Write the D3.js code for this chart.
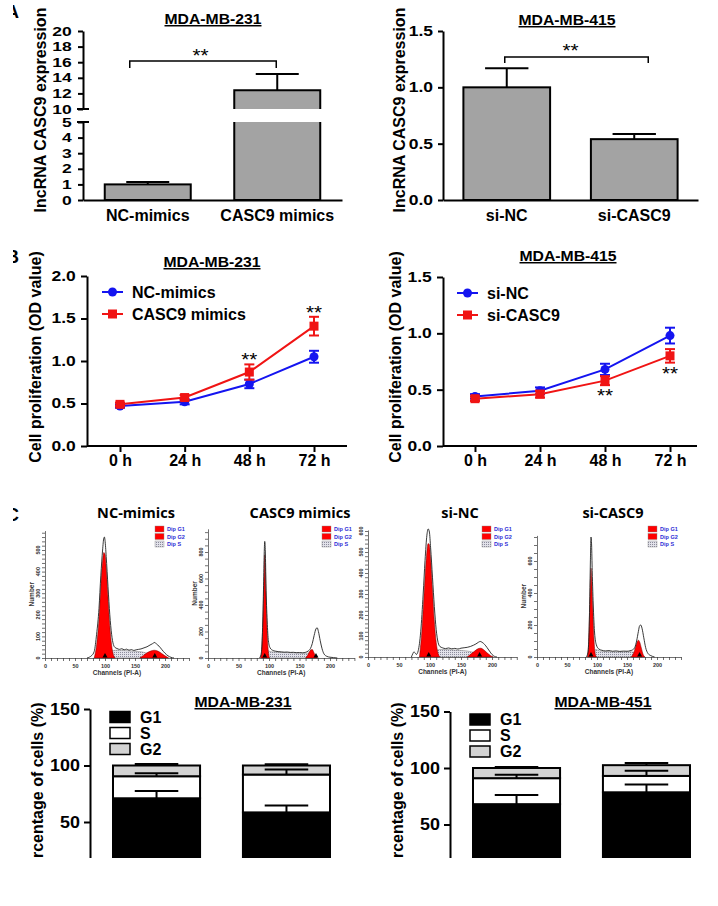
<!DOCTYPE html>
<html><head><meta charset="utf-8">
<script src="https://cdn.jsdelivr.net/npm/d3@7"></script>
<style>body{margin:0;background:#fff}svg{display:block}</style>
</head><body><svg id="c" width="718" height="906"></svg>
<script>
// ---------------- DATA ----------------
const exprA1Cats = ["NC-mimics", "CASC9 mimics"];
const exprA1Vals = [1.0, 12.4];
const exprA1Errs = [0.15, 2.1];
const exprA1LowTicks = [0, 1, 2, 3, 4, 5];
const exprA1HighTicks = [10, 12, 14, 16, 18, 20];
const exprA2Cats = ["si-NC", "si-CASC9"];
const exprA2Vals = [1.0, 0.54];
const exprA2Errs = [0.17, 0.045];
const exprA2Ticks = [0, 0.5, 1.0, 1.5];

const timeLabels = ["0 h", "24 h", "48 h", "72 h"];
const prolB1Names = ["NC-mimics", "CASC9 mimics"];
const prolB1NC = [0.47, 0.52, 0.73, 1.05];
const prolB1NCErr = [0.02, 0.03, 0.05, 0.07];
const prolB1Casc = [0.49, 0.57, 0.87, 1.41];
const prolB1CascErr = [0.02, 0.03, 0.09, 0.11];
const prolB1Ticks = [0, 0.5, 1.0, 1.5, 2.0];
const prolB2Names = ["si-NC", "si-CASC9"];
const prolB2NC = [0.44, 0.49, 0.68, 0.98];
const prolB2NCErr = [0.02, 0.03, 0.05, 0.07];
const prolB2Si = [0.42, 0.46, 0.58, 0.80];
const prolB2SiErr = [0.02, 0.03, 0.04, 0.06];
const prolB2Ticks = [0, 0.5, 1.0, 1.5];

// flow histograms: [channel, count]
const histNCOutline = [[70,0],[74,4],[78,12],[82,30],[86,110],[90,230],[93,380],[96,500],[98,555],[99,560],[100,545],[102,470],[105,330],[108,200],[111,110],[114,62],[117,48],[120,44],[124,40],[128,43],[132,38],[136,41],[140,36],[144,39],[148,35],[152,38],[156,40],[160,42],[165,47],[170,52],[175,60],[179,66],[183,72],[186,64],[190,55],[195,38],[200,22],[205,10],[210,3],[215,0]];
const histNCG1 = [[82,0],[86,60],[90,180],[93,330],[96,450],[98,488],[100,480],[102,420],[105,280],[108,150],[111,60],[114,15],[117,0]];
const histNCG2 = [[158,0],[164,12],[170,24],[176,32],[182,36],[188,32],[194,22],[200,10],[206,0]];
const histNCS = [[104,0],[108,22],[113,34],[120,36],[135,34],[150,31],[162,28],[172,20],[182,10],[192,3],[200,0]];

const histCAOutline = [[84,0],[87,25],[89,160],[91,520],[92,760],[93,880],[94,800],[95,560],[97,280],[99,130],[102,75],[106,58],[110,52],[115,48],[120,46],[125,44],[130,45],[135,42],[140,43],[145,40],[150,41],[155,39],[160,43],[164,52],[168,72],[171,110],[174,170],[177,220],[179,228],[181,200],[184,130],[187,70],[190,32],[195,12],[200,6],[206,3],[212,0]];
const histCAG1 = [[86,0],[88,60],[90,280],[92,620],[93,780],[94,700],[95,500],[97,200],[99,50],[101,0]];
const histCAG2 = [[160,0],[163,18],[166,45],[169,62],[171,64],[173,48],[176,18],[179,0]];
const histCAS = [[95,0],[97,55],[100,52],[105,46],[120,42],[140,39],[155,38],[164,36],[170,28],[176,12],[180,0]];

const histSNOutline = [[70,0],[72,14],[74,24],[76,20],[78,12],[81,30],[85,120],[89,300],[92,460],[95,580],[97,610],[99,595],[101,520],[104,380],[107,240],[110,130],[113,70],[116,50],[120,44],[125,40],[130,43],[135,39],[140,41],[145,38],[150,42],[155,44],[160,46],[165,50],[170,56],[174,62],[178,70],[181,74],[184,70],[188,60],[192,45],[196,28],[200,12],[204,3],[208,0]];
const histSNG1 = [[83,0],[87,130],[91,330],[94,470],[97,540],[99,535],[101,470],[104,320],[107,170],[110,70],[113,18],[116,0]];
const histSNG2 = [[160,0],[166,14],[172,28],[178,40],[182,42],[186,36],[192,20],[198,6],[202,0]];
const histSNS = [[106,0],[110,28],[116,36],[125,36],[140,33],[155,30],[165,26],[174,18],[184,8],[194,0]];

const histSCOutline = [[82,0],[85,30],[87,190],[88,380],[89,600],[90,750],[91,700],[92,540],[94,300],[96,150],[99,75],[103,50],[108,42],[114,38],[120,40],[126,36],[132,38],[138,35],[144,37],[150,36],[155,39],[159,44],[163,60],[166,100],[169,160],[171,195],[173,200],[175,180],[178,120],[181,60],[185,22],[190,8],[196,0]];
const histSCG1 = [[84,0],[86,90],[88,330],[89,480],[90,555],[91,500],[93,300],[95,110],[97,20],[99,0]];
const histSCG2 = [[157,0],[161,25],[164,60],[167,95],[169,105],[171,95],[174,55],[177,15],[180,0]];
const histSCS = [[95,0],[98,48],[104,38],[115,34],[130,32],[145,32],[156,33],[163,26],[170,12],[175,0]];

const phaseNames = ["G1", "S", "G2"];
const cycle231Cats = ["NC-mimics", "CASC9 mimics"];
const cycle231G1 = [71, 58.5];
const cycle231S = [19.5, 33.5];
const cycle231G2 = [9.5, 8];
const cycle231G1Err = [6.4, 6.2];
const cycle231SErr = [2.7, 4.5];
const cycle231G2Err = [1.3, 1.0];
const cycle451Cats = ["si-NC", "si-CASC9"];
const cycle451G1 = [68, 78.5];
const cycle451S = [23, 14.5];
const cycle451G2 = [9, 9.5];
const cycle451G1Err = [8, 7];
const cycle451SErr = [3, 4.5];
const cycle451G2Err = [0.8, 2];
const cycleTicks = [0, 50, 100, 150];

// ---------------- DRAWING ----------------
const FONT = '"Liberation Sans", Arial, sans-serif';
const SX = 1.25;
const BLUE = "#1414f0", RED = "#f01414", BARGRAY = "#a3a3a3";
const svg = d3.select("#c").attr("font-family", FONT);
svg.append("rect").attr("width", 718).attr("height", 906).attr("fill", "#fff");
const defs = svg.append("defs");
const pat = defs.append("pattern").attr("id", "dots").attr("width", 2).attr("height", 2).attr("patternUnits", "userSpaceOnUse");
pat.append("rect").attr("width", 2).attr("height", 2).attr("fill", "#e2e2ea");
pat.append("rect").attr("width", 1).attr("height", 1).attr("fill", "#8c8c9c");
defs.append("clipPath").attr("id", "letterClip").append("rect").attr("x", 13).attr("y", 0).attr("width", 30).attr("height", 906);
defs.append("clipPath").attr("id", "bottomClip").append("rect").attr("x", 0).attr("y", 0).attr("width", 718).attr("height", 858);

function htext(g, x, y, s, o = {}) {
  return g.append("text")
    .attr("transform", `translate(${x},${y}) scale(${o.sx ?? 1},1)`)
    .attr("text-anchor", o.anchor || "middle")
    .attr("font-size", o.size || 16)
    .attr("font-weight", o.weight || "bold")
    .attr("font-family", o.family || FONT)
    .attr("fill", o.fill || "#000")
    .style("text-decoration", o.underline ? "underline" : null)
    .text(s);
}
function vtext(g, x, y, s, size = 16, weight = "bold", family = FONT) {
  return g.append("text").attr("transform", `translate(${x},${y}) rotate(-90)`)
    .attr("text-anchor", "middle").attr("font-size", size).attr("font-weight", weight)
    .attr("font-family", family).text(s);
}
function styleAxis(sel, w = 2, size = 14, sx = SX) {
  sel.selectAll("path,line").attr("stroke", "#000").attr("stroke-width", w);
  sel.selectAll("text").attr("font-family", FONT).attr("font-weight", "bold")
    .attr("font-size", size).attr("fill", "#000").attr("transform", `scale(${sx},1)`);
}

// panel letters (cropped)
const letters = svg.append("g").attr("clip-path", "url(#letterClip)");
[["A", 18], ["B", 263], ["C", 521]].forEach(([t, y]) =>
  letters.append("text").attr("x", 19).attr("y", y).attr("text-anchor", "end")
    .attr("font-size", 18).attr("font-weight", "bold").text(t));

// ---------- Panel A left (broken axis) ----------
{
  const g = svg.append("g");
  const AX = 83, X1 = 342;
  const x = d3.scaleBand().domain(exprA1Cats).range([AX, X1]).paddingInner(0.336).paddingOuter(0.168);
  const yLo = d3.scaleLinear().domain([0, 5]).range([200, 122]);
  const yHi = d3.scaleLinear().domain([10, 20]).range([109, 31]);
  const yv = v => v > 5 ? yHi(v) : yLo(v);
  const bw = x.bandwidth();
  exprA1Vals.forEach((v, i) => {
    const x0 = x(exprA1Cats[i]);
    if (v <= 5) {
      g.append("rect").attr("x", x0).attr("y", yLo(v)).attr("width", bw).attr("height", yLo(0) - yLo(v))
        .attr("fill", BARGRAY).attr("stroke", "#000").attr("stroke-width", 2);
    } else {
      g.append("rect").attr("x", x0).attr("y", yLo(5)).attr("width", bw).attr("height", yLo(0) - yLo(5)).attr("fill", BARGRAY);
      g.append("path").attr("d", `M${x0},${yLo(5)}V${yLo(0)}H${x0 + bw}V${yLo(5)}`).attr("fill", "none").attr("stroke", "#000").attr("stroke-width", 2);
      g.append("rect").attr("x", x0).attr("y", yHi(v)).attr("width", bw).attr("height", yHi(10) - yHi(v)).attr("fill", BARGRAY);
      g.append("path").attr("d", `M${x0},${yHi(10)}V${yHi(v)}H${x0 + bw}V${yHi(10)}`).attr("fill", "none").attr("stroke", "#000").attr("stroke-width", 2);
    }
    const cx = x0 + bw / 2, e = exprA1Errs[i];
    g.append("line").attr("x1", cx).attr("x2", cx).attr("y1", yv(v)).attr("y2", yv(v + e)).attr("stroke", "#000").attr("stroke-width", 2);
    g.append("line").attr("x1", cx - bw / 4).attr("x2", cx + bw / 4).attr("y1", yv(v + e)).attr("y2", yv(v + e)).attr("stroke", "#000").attr("stroke-width", 2);
  });
  const gl = g.append("g").attr("transform", `translate(${AX},0)`).call(d3.axisLeft(yLo).tickValues(exprA1LowTicks).tickSize(5).tickSizeOuter(0).tickFormat(d3.format("d")));
  styleAxis(gl, 2, 12.5, 1.4);
  const gh = g.append("g").attr("transform", `translate(${AX},0)`).call(d3.axisLeft(yHi).tickValues(exprA1HighTicks).tickSize(5).tickSizeOuter(0).tickFormat(d3.format("d")));
  styleAxis(gh, 2, 12.5, 1.4);
  // break marks
  [yHi(10), yLo(5)].forEach(yy => g.append("line").attr("x1", AX - 6).attr("x2", AX + 6).attr("y1", yy).attr("y2", yy).attr("stroke", "#000").attr("stroke-width", 2));
  const gx = g.append("g").attr("transform", "translate(0,200)").call(d3.axisBottom(x).tickSize(0).tickPadding(10));
  styleAxis(gx, 2, 16, 1.0);
  // significance
  const c0 = x(exprA1Cats[0]) + bw / 2, c1 = x(exprA1Cats[1]) + bw / 2;
  g.append("path").attr("d", `M${c0 - 18},68V61H${c1 - 1}V68`).attr("fill", "none").attr("stroke", "#000").attr("stroke-width", 1.5);
  htext(g, (c0 + c1) / 2 - 12, 62, "**", { size: 18, weight: "normal", sx: 1.15 });
  htext(g, 213, 24, "MDA-MB-231", { size: 15, underline: true, sx: 1.05 });
  vtext(g, 46, 110, "lncRNA CASC9 expression");
}

// ---------- Panel A right ----------
{
  const g = svg.append("g");
  const AX = 443, X1 = 698;
  const x = d3.scaleBand().domain(exprA2Cats).range([AX, X1]).paddingInner(0.32).paddingOuter(0.16);
  const y = d3.scaleLinear().domain([0, 1.5]).range([200, 31]);
  const bw = x.bandwidth();
  exprA2Vals.forEach((v, i) => {
    const x0 = x(exprA2Cats[i]), cx = x0 + bw / 2, e = exprA2Errs[i];
    g.append("line").attr("x1", cx).attr("x2", cx).attr("y1", y(v)).attr("y2", y(v + e)).attr("stroke", "#000").attr("stroke-width", 2);
    g.append("line").attr("x1", cx - bw / 4).attr("x2", cx + bw / 4).attr("y1", y(v + e)).attr("y2", y(v + e)).attr("stroke", "#000").attr("stroke-width", 2);
    g.append("rect").attr("x", x0).attr("y", y(v)).attr("width", bw).attr("height", y(0) - y(v))
      .attr("fill", BARGRAY).attr("stroke", "#000").attr("stroke-width", 2);
  });
  const gy = g.append("g").attr("transform", `translate(${AX},0)`).call(d3.axisLeft(y).tickValues(exprA2Ticks).tickSize(5).tickSizeOuter(0).tickFormat(d3.format(".1f")));
  styleAxis(gy);
  const gx = g.append("g").attr("transform", "translate(0,200)").call(d3.axisBottom(x).tickSize(0).tickPadding(10));
  styleAxis(gx, 2, 16, 1.0);
  const c0 = x(exprA2Cats[0]) + bw / 2, c1 = x(exprA2Cats[1]) + bw / 2;
  g.append("path").attr("d", `M${c0 - 2},63V57H${c1 + 14}V63`).attr("fill", "none").attr("stroke", "#000").attr("stroke-width", 1.5);
  htext(g, (c0 + c1) / 2, 57, "**", { size: 18, weight: "normal", sx: 1.15 });
  htext(g, 567, 25, "MDA-MB-415", { size: 15, underline: true, sx: 1.05 });
  vtext(g, 405, 110, "lncRNA CASC9 expression");
}

// ---------- Panel B line charts ----------
function lineChart(o) {
  const g = svg.append("g");
  const x = d3.scalePoint().domain(timeLabels).range(o.xr);
  const y = d3.scaleLinear().domain([0, o.yMax]).range([446, o.yTop]);
  const gy = g.append("g").attr("transform", `translate(${o.ax},0)`).call(d3.axisLeft(y).tickValues(o.yTicks).tickSize(6).tickSizeOuter(0).tickFormat(d3.format(".1f")));
  styleAxis(gy);
  const gx = g.append("g").attr("transform", "translate(0,446)").call(d3.axisBottom(x).tickSize(6).tickSizeOuter(0));
  gx.select(".domain").remove();
  styleAxis(gx, 2, 16, 1.0);
  g.append("line").attr("x1", o.ax).attr("x2", o.axEnd).attr("y1", 446).attr("y2", 446).attr("stroke", "#000").attr("stroke-width", 2);
  const line = d3.line().x((d, i) => x(timeLabels[i])).y(d => y(d));
  o.series.forEach(s => {
    g.append("path").attr("d", line(s.vals)).attr("fill", "none").attr("stroke", s.color).attr("stroke-width", 2);
    s.vals.forEach((v, i) => {
      const cx = x(timeLabels[i]), e = s.errs[i];
      g.append("line").attr("x1", cx).attr("x2", cx).attr("y1", y(v - e)).attr("y2", y(v + e)).attr("stroke", s.color).attr("stroke-width", 2);
      [v - e, v + e].forEach(w => g.append("line").attr("x1", cx - 5).attr("x2", cx + 5).attr("y1", y(w)).attr("y2", y(w)).attr("stroke", s.color).attr("stroke-width", 2));
      if (s.shape === "circle") g.append("circle").attr("cx", cx).attr("cy", y(v)).attr("r", 4.5).attr("fill", s.color);
      else g.append("rect").attr("x", cx - 4.5).attr("y", y(v) - 4.5).attr("width", 9).attr("height", 9).attr("fill", s.color);
    });
  });
  // legend
  o.series.forEach((s, k) => {
    const ly = o.legY[k];
    g.append("line").attr("x1", o.legX).attr("x2", o.legX + 21).attr("y1", ly).attr("y2", ly).attr("stroke", s.color).attr("stroke-width", 2);
    if (s.shape === "circle") g.append("circle").attr("cx", o.legX + 10.5).attr("cy", ly).attr("r", 4.5).attr("fill", s.color);
    else g.append("rect").attr("x", o.legX + 6).attr("y", ly - 4.5).attr("width", 9).attr("height", 9).attr("fill", s.color);
    htext(g, o.legX + 30, ly + 6, s.name, { size: 16, anchor: "start" });
  });
  // significance stars
  o.stars.forEach(st => {
    const s = o.series[st.series], i = st.idx;
    const yy = st.above ? y(s.vals[i] + s.errs[i]) + 2 : y(s.vals[i] - s.errs[i]) + 17;
    htext(g, x(timeLabels[i]), yy, "**", { size: 18, weight: "normal", sx: 1.15 });
  });
  htext(g, o.titleX, o.titleY, o.title, { size: 15, underline: true, sx: 1.05 });
  vtext(g, o.labX, 357, "Cell proliferation (OD value)");
}
lineChart({
  ax: 87, axEnd: 347, xr: [120, 314], yMax: 2.0, yTop: 276, yTicks: prolB1Ticks,
  series: [
    { name: prolB1Names[0], vals: prolB1NC, errs: prolB1NCErr, color: BLUE, shape: "circle" },
    { name: prolB1Names[1], vals: prolB1Casc, errs: prolB1CascErr, color: RED, shape: "square" }],
  legX: 102, legY: [292, 314],
  stars: [{ series: 1, idx: 2, above: true }, { series: 1, idx: 3, above: true }],
  title: "MDA-MB-231", titleX: 212, titleY: 267, labX: 41
});
lineChart({
  ax: 443, axEnd: 697, xr: [475, 670], yMax: 1.5, yTop: 277, yTicks: prolB2Ticks,
  series: [
    { name: prolB2Names[0], vals: prolB2NC, errs: prolB2NCErr, color: BLUE, shape: "circle" },
    { name: prolB2Names[1], vals: prolB2Si, errs: prolB2SiErr, color: RED, shape: "square" }],
  legX: 457, legY: [293, 315],
  stars: [{ series: 1, idx: 2, above: false }, { series: 1, idx: 3, above: false }],
  title: "MDA-MB-415", titleX: 568, titleY: 261, labX: 401
});

// ---------- Panel C flow histograms ----------
function histo(c) {
  const g = svg.append("g");
  const x = d3.scaleLinear().domain([0, 240]).range([c.x0, c.x0 + 240 * c.ppc]);
  const y = d3.scaleLinear().domain([0, c.yMax]).range([c.y0, c.y0 - c.yMax * c.ppn]);
  const area = d3.area().x(d => x(d[0])).y0(y(0)).y1(d => y(d[1])).curve(d3.curveMonotoneX);
  const line = d3.line().x(d => x(d[0])).y(d => y(d[1])).curve(d3.curveMonotoneX);
  g.append("path").attr("d", area(c.s)).attr("fill", "url(#dots)").attr("stroke", "#777").attr("stroke-width", 0.5);
  g.append("path").attr("d", area(c.g1)).attr("fill", "#ff0000").attr("stroke", "#700").attr("stroke-width", 0.5);
  g.append("path").attr("d", area(c.g2)).attr("fill", "#ff0000").attr("stroke", "#700").attr("stroke-width", 0.5);
  g.append("path").attr("d", line(c.outline)).attr("fill", "none").attr("stroke", "#222").attr("stroke-width", 0.9);
  // x axis
  const gx = g.append("g").attr("transform", `translate(0,${c.y0})`)
    .call(d3.axisBottom(x).tickValues(d3.range(0, 241, 10)).tickSize(3).tickSizeOuter(0)
      .tickFormat(d => (d % 50 === 0 && d <= 200) ? d : ""));
  gx.selectAll("path,line").attr("stroke", "#333").attr("stroke-width", 0.7);
  gx.selectAll("text").attr("font-size", 5.5).attr("font-weight", "bold").attr("fill", "#333").attr("y", 6);
  // y axis
  const gy = g.append("g").attr("transform", `translate(${c.x0},0)`)
    .call(d3.axisLeft(y).tickValues(d3.range(0, c.yMax + 0.1, c.yMinor)).tickSize(3).tickSizeOuter(0).tickFormat(""));
  gy.selectAll("path,line").attr("stroke", "#333").attr("stroke-width", 0.7);
  g.selectAll(null).data(c.yMajor).join("text")
    .attr("transform", d => `translate(${c.x0 - 5},${y(d)}) rotate(-90)`)
    .attr("text-anchor", "middle").attr("font-size", 5.5).attr("font-weight", "bold").attr("fill", "#333").text(d => d);
  if (!c.noNumber) vtext(g, c.x0 - 11, (c.y0 + y(c.yMax)) / 2, "Number", 6.5).attr("fill", "#333");
  htext(g, (x(0) + x(240)) / 2, c.y0 + 17, "Channels (PI-A)", { size: 6.5, fill: "#333" });
  // peak markers
  c.markers.forEach(m => g.append("path")
    .attr("d", `M${x(m) - 2.5},${c.y0 - 0.5}L${x(m)},${c.y0 - 5}L${x(m) + 2.5},${c.y0 - 0.5}Z`).attr("fill", "#000"));
  // legend
  [["Dip G1", "#ff0000"], ["Dip G2", "#ff0000"], ["Dip S", "url(#dots)"]].forEach(([t, f], k) => {
    const ly = 526 + k * 7.5;
    g.append("rect").attr("x", c.legX).attr("y", ly).attr("width", 9).attr("height", 6).attr("fill", f).attr("stroke", "#888").attr("stroke-width", 0.4);
    htext(g, c.legX + 12, ly + 5.3, t, { size: 5.5, anchor: "start", fill: "#2b2bd6" });
  });
  htext(g, c.titleX, 518, c.title, { size: 15, weight: 700, family: '"Open Sans", sans-serif', sx: 0.97 });
}
histo({ x0: 45, ppc: 0.6, y0: 658, ppn: 0.216, yMax: 590, yMinor: 20, yMajor: [0, 100, 200, 300, 400, 500],
  outline: histNCOutline, g1: histNCG1, g2: histNCG2, s: histNCS, markers: [100, 183],
  title: "NC-mimics", titleX: 136, legX: 155 });
histo({ x0: 208, ppc: 0.61, y0: 658, ppn: 0.1325, yMax: 975, yMinor: 50, yMajor: [0, 200, 400, 600, 800],
  outline: histCAOutline, g1: histCAG1, g2: histCAG2, s: histCAS, markers: [93, 177],
  title: "CASC9 mimics", titleX: 300, legX: 322 });
histo({ x0: 368, ppc: 0.62, y0: 657, ppn: 0.21, yMax: 605, yMinor: 20, yMajor: [0, 100, 200, 300, 400, 500, 600],
  outline: histSNOutline, g1: histSNG1, g2: histSNG2, s: histSNS, markers: [98, 180],
  title: "si-NC", titleX: 460, legX: 482, noNumber: true });
histo({ x0: 537, ppc: 0.6, y0: 657, ppn: 0.16, yMax: 760, yMinor: 50, yMajor: [0, 200, 400, 600],
  outline: histSCOutline, g1: histSCG1, g2: histSCG2, s: histSCS, markers: [90, 171],
  title: "si-CASC9", titleX: 613, legX: 648 });

// ---------- Panel C cell-cycle stacked bars ----------
function cycleChart(o) {
  const g = svg.append("g").attr("clip-path", "url(#bottomClip)");
  const x = d3.scaleBand().domain(o.cats).range([o.ax, o.ax + 263]).paddingInner(0.33).paddingOuter(0.177);
  const y = d3.scaleLinear().domain([0, 150]).range([o.y0, o.y0 - 169.5]);
  const bw = x.bandwidth();
  const fills = ["#000", "#fff", "#d3d3d3"];
  o.cats.forEach((cat, i) => {
    let base = 0;
    const tops = [];
    o.vals.forEach((arr, j) => {
      const v = arr[i];
      g.append("rect").attr("x", x(cat)).attr("y", y(base + v)).attr("width", bw).attr("height", y(base) - y(base + v))
        .attr("fill", fills[j]).attr("stroke", "#000").attr("stroke-width", 2);
      base += v;
      tops.push(base);
    });
    const cx = x(cat) + bw / 2;
    tops.forEach((t, j) => {
      const e = o.errs[j][i];
      g.append("line").attr("x1", cx).attr("x2", cx).attr("y1", y(t)).attr("y2", y(t + e)).attr("stroke", "#000").attr("stroke-width", 2);
      g.append("line").attr("x1", cx - bw / 4).attr("x2", cx + bw / 4).attr("y1", y(t + e)).attr("y2", y(t + e)).attr("stroke", "#000").attr("stroke-width", 2);
    });
  });
  const gy = g.append("g").attr("transform", `translate(${o.ax},0)`).call(d3.axisLeft(y).tickValues(cycleTicks).tickSize(6).tickSizeOuter(0));
  styleAxis(gy, 2, 16, 1.12);
  // legend
  phaseNames.forEach((p, k) => {
    const ly = o.y0 - 167 + k * 16;
    g.append("rect").attr("x", o.ax + 20).attr("y", ly).attr("width", 20).attr("height", 11).attr("fill", fills[k]).attr("stroke", "#000").attr("stroke-width", 1.5);
    htext(g, o.ax + 50, ly + 11, p, { size: 16, anchor: "start" });
  });
  htext(g, o.titleX, 707, o.title, { size: 15, underline: true, sx: 1.05 });
  vtext(g, o.ax - 47, 790, "Percentage of cells (%)");
}
cycleChart({ ax: 90, y0: 878.5, cats: cycle231Cats, vals: [cycle231G1, cycle231S, cycle231G2],
  errs: [cycle231G1Err, cycle231SErr, cycle231G2Err], title: "MDA-MB-231", titleX: 243 });
cycleChart({ ax: 450, y0: 881, cats: cycle451Cats, vals: [cycle451G1, cycle451S, cycle451G2],
  errs: [cycle451G1Err, cycle451SErr, cycle451G2Err], title: "MDA-MB-451", titleX: 603 });
</script>
</body></html>
